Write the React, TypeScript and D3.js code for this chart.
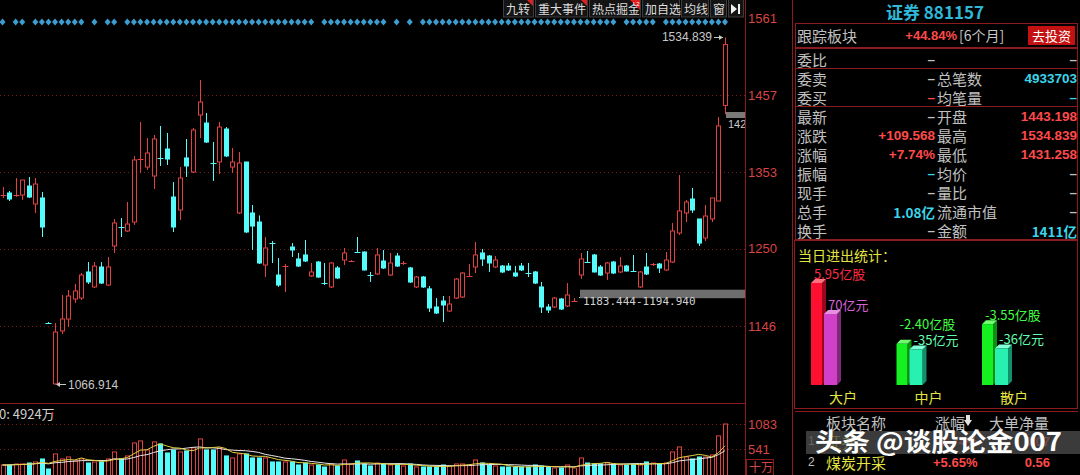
import React from "react";
import * as d3 from "d3";

// daily candles: [open, high, low, close]
const kline: [number, number, number, number][] = [
  [1322.0, 1333.3, 1318.5, 1322.5], [1325.2, 1327.9, 1314.4, 1317.1], [1322.3, 1345.4, 1319.8, 1322.5],
  [1322.5, 1342.7, 1315.8, 1342.7], [1334.6, 1346.8, 1318.5, 1319.8], [1310.4, 1345.4, 1298.3, 1337.3],
  [1318.5, 1326.6, 1265.9, 1279.4], [1150.5, 1151.4, 1148.7, 1150.0], [1068.0, 1150.0, 1066.9, 1137.9],
  [1139.3, 1187.8, 1135.2, 1155.4], [1155.4, 1194.5, 1144.7, 1186.4], [1182.4, 1202.6, 1177.0, 1193.2],
  [1183.7, 1217.4, 1181.0, 1214.7], [1218.8, 1232.2, 1202.6, 1205.3], [1198.6, 1232.2, 1197.2, 1226.8],
  [1225.5, 1232.2, 1202.6, 1203.9], [1201.2, 1239.0, 1199.9, 1225.5], [1253.8, 1290.2, 1244.4, 1284.8],
  [1279.8, 1291.5, 1265.9, 1279.4], [1274.0, 1313.1, 1272.7, 1283.4], [1286.1, 1375.1, 1282.1, 1369.7],
  [1370.6, 1420.9, 1352.2, 1371.0], [1360.2, 1399.3, 1356.2, 1379.1], [1348.1, 1403.4, 1330.6, 1398.0],
  [1372.8, 1415.5, 1361.6, 1372.4], [1384.5, 1406.1, 1362.9, 1371.0], [1319.8, 1340.0, 1272.7, 1279.4],
  [1302.3, 1360.2, 1288.8, 1345.4], [1372.4, 1398.0, 1346.8, 1361.6], [1353.5, 1412.8, 1352.2, 1410.1],
  [1430.3, 1477.5, 1399.3, 1447.8], [1419.5, 1433.0, 1392.6, 1393.9], [1366.0, 1393.9, 1341.4, 1365.6],
  [1367.0, 1420.9, 1350.8, 1414.1], [1411.4, 1414.1, 1373.7, 1375.1], [1360.2, 1385.8, 1352.2, 1367.0],
  [1298.3, 1380.4, 1296.9, 1365.6], [1367.0, 1367.0, 1271.3, 1272.7], [1298.3, 1309.0, 1248.4, 1280.7],
  [1286.1, 1295.0, 1229.5, 1230.9], [1228.2, 1265.9, 1212.0, 1251.1], [1258.2, 1260.5, 1230.9, 1257.8],
  [1214.7, 1237.6, 1198.6, 1201.2], [1226.4, 1229.5, 1191.8, 1226.8], [1252.4, 1257.8, 1239.0, 1248.4],
  [1236.3, 1244.4, 1225.5, 1226.8], [1241.7, 1261.9, 1232.2, 1233.6], [1213.4, 1230.9, 1212.0, 1218.8],
  [1232.2, 1233.6, 1210.7, 1212.0], [1204.3, 1230.9, 1201.2, 1203.9], [1198.6, 1232.2, 1197.2, 1230.9],
  [1224.2, 1226.8, 1209.3, 1210.7], [1234.9, 1251.1, 1228.2, 1244.4], [1233.3, 1234.9, 1232.2, 1233.6],
  [1246.1, 1265.9, 1244.4, 1245.7], [1245.7, 1246.5, 1220.8, 1221.5], [1215.1, 1218.8, 1205.3, 1214.7],
  [1216.1, 1251.1, 1214.7, 1241.7], [1233.6, 1248.4, 1222.8, 1224.2], [1214.7, 1244.4, 1213.4, 1230.9],
  [1240.3, 1244.4, 1225.5, 1226.8], [1230.5, 1233.6, 1228.2, 1230.9], [1224.2, 1225.5, 1204.0, 1205.3],
  [1198.6, 1213.4, 1197.2, 1212.0], [1212.0, 1213.4, 1197.2, 1198.6], [1196.0, 1199.9, 1164.9, 1170.3],
  [1171.6, 1183.7, 1162.2, 1163.5], [1179.7, 1186.4, 1151.4, 1174.3], [1166.2, 1186.4, 1164.9, 1175.6],
  [1183.7, 1210.7, 1182.4, 1209.3], [1185.1, 1218.8, 1183.7, 1217.4], [1213.0, 1229.5, 1212.0, 1213.4],
  [1225.5, 1259.2, 1217.4, 1241.7], [1244.4, 1249.8, 1226.8, 1236.3], [1240.3, 1241.7, 1218.8, 1230.9],
  [1225.5, 1240.3, 1224.2, 1234.9], [1226.8, 1228.2, 1217.4, 1218.8], [1226.8, 1230.9, 1220.1, 1221.5],
  [1217.4, 1226.8, 1212.0, 1213.4], [1226.8, 1230.9, 1220.1, 1221.5], [1217.8, 1230.9, 1212.0, 1217.4],
  [1218.8, 1220.1, 1202.6, 1203.9], [1198.6, 1205.3, 1163.5, 1171.6], [1171.6, 1175.6, 1163.5, 1167.6],
  [1171.6, 1185.1, 1170.3, 1183.7], [1182.4, 1183.7, 1167.6, 1168.9], [1173.0, 1203.9, 1171.6, 1187.8],
  [1179.5, 1183.7, 1178.3, 1179.7], [1214.7, 1244.4, 1209.3, 1236.3], [1232.5, 1247.1, 1230.9, 1232.2],
  [1241.7, 1243.0, 1218.1, 1218.8], [1225.5, 1228.2, 1213.4, 1214.7], [1217.4, 1232.2, 1208.0, 1230.9],
  [1232.2, 1233.6, 1216.1, 1217.4], [1218.8, 1239.0, 1217.4, 1226.8], [1226.8, 1228.2, 1219.4, 1220.1],
  [1220.5, 1241.7, 1218.8, 1220.1], [1198.6, 1220.1, 1197.2, 1218.8], [1225.5, 1244.4, 1214.7, 1216.1],
  [1229.2, 1230.9, 1226.8, 1229.5], [1229.5, 1230.9, 1217.4, 1224.2], [1221.5, 1245.7, 1220.1, 1234.9],
  [1232.2, 1284.8, 1230.9, 1274.0], [1271.3, 1349.5, 1268.6, 1301.0], [1298.3, 1315.8, 1286.1, 1313.1],
  [1317.1, 1331.9, 1298.3, 1302.3], [1290.2, 1290.2, 1253.8, 1257.8], [1264.6, 1309.0, 1260.5, 1294.2],
  [1290.2, 1318.5, 1286.1, 1318.5], [1314.4, 1427.6, 1314.4, 1415.6], [1443.198, 1534.839, 1431.258, 1525.2],
];

// volume, 十万
const volume = [
  204, 204, 226, 226, 247, 269, 333, 118, 441, 333, 376, 290, 333, 247, 269, 269, 333, 484, 333, 398,
  677, 720, 527, 699, 656, 462, 527, 484, 505, 570, 763, 527, 527, 570, 398, 355, 441, 441, 355, 355,
  355, 269, 269, 269, 269, 204, 247, 204, 204, 161, 226, 183, 312, 226, 290, 226, 183, 247, 226, 204,
  226, 183, 226, 161, 161, 161, 161, 204, 183, 226, 226, 204, 312, 247, 204, 183, 161, 161, 161, 161,
  161, 204, 183, 161, 140, 140, 204, 140, 355, 247, 226, 226, 247, 226, 204, 204, 226, 204, 269, 247,
  226, 247, 484, 591, 376, 333, 376, 376, 419, 828, 1083,
];

// days flagged with a marker on the top strip (inclusive index runs)
const markerRuns: [number, number][] = [
  [0, 0], [2, 3], [5, 12], [14, 14], [16, 17], [19, 47], [49, 58], [60, 60], [62, 62], [64, 93], [95, 99], [101, 110],
];

const priceTicks = [1561, 1457, 1353, 1250, 1146];
const volTicks = [1083, 541];

const toolButtons = ["九转", "重大事件", "热点掘金", "加自选", "均线", "窗"];

const quoteLeft = ["委比", "委卖", "委买", "最新", "涨跌", "涨幅", "振幅", "现手", "总手", "换手"];
const quoteMid = ["–", "–", "–", "–", "+109.568", "+7.74%", "–", "–", "1.08亿", "–"];
const quoteMidTone = ["plain", "plain", "up", "plain", "up", "up", "info", "plain", "info", "plain"];
const quoteRightLabel = ["", "总笔数", "均笔量", "开盘", "最高", "最低", "均价", "量比", "流通市值", "金额"];
const quoteRight = ["–", "4933703", "–", "1443.198", "1534.839", "1431.258", "–", "–", "–", "1411亿"];
const quoteRightTone = ["plain", "info", "info", "up", "up", "up", "plain", "plain", "plain", "info"];

const flowGroups = ["大户", "中户", "散户"];
const flowShares = [5.95, -2.4, -3.55]; // 亿股
const flowMoney = [70, -35, -36]; // 亿元

const sectorNames = ["证券", "煤炭开采"];
const sectorChange = ["+7.74%", "+5.65%"];
const sectorNet = ["0.07", "0.56"];

const RED = "#e04242";
const CYAN = "#54fcfc";
const AXIS = "#d84444";
const FRAME = "#8c1c1c";
const GRID = "#7a1c1c";
const CJK = "'Noto Sans CJK SC', sans-serif";
const NUM = "'Liberation Sans', Arial, sans-serif";
const toneColor: Record<string, string> = { plain: "#c0c0c0", up: "#ff4a4a", info: "#3cd4e8" };

const App: React.FC = () => {
  const xs = d3.scaleLinear().domain([0, kline.length - 1]).range([2.5, 725]);
  const ys = d3.scaleLinear().domain([1146, 1561]).range([326, 18]);
  const yv = d3.scaleLinear().domain([0, 1083]).range([474.5, 424]);

  const ma = (n: number) =>
    volume.map((_, i) => d3.mean(volume.slice(Math.max(0, i - n + 1), i + 1)) as number);
  const volLine = d3.line<number>().x((_, i) => xs(i)).y((d) => yv(d));

  const markers: number[] = [];
  markerRuns.forEach(([a, b]) => {
    for (let i = a; i <= b; i++) markers.push(i);
  });

  // little 3d bar chart
  const shareH = d3.scaleLinear().domain([0, 5.95]).range([0, 102]);
  const moneyH = d3.scaleLinear().domain([0, 70]).range([0, 71]);
  const groupX = d3.scalePoint<string>().domain(flowGroups).range([811, 982]);
  const base = 385;
  const d = 4;

  const bar3d = (x0: number, w: number, h: number, front: string, side: string, top: string) => {
    const t = base - h;
    return (
      <g>
        <polygon points={`${x0 + w},${t} ${x0 + w + d},${t - d} ${x0 + w + d},${base - d} ${x0 + w},${base}`} fill={side} />
        <polygon points={`${x0},${t} ${x0 + d},${t - d} ${x0 + w + d},${t - d} ${x0 + w},${t}`} fill={top} />
        <rect x={x0} y={t} width={w} height={h} fill={front} />
      </g>
    );
  };

  const btnEdges = [503, 535, 589, 642, 681, 710, 728, 745];

  return (
    <div style={{ position: "absolute", left: 0, top: 0 }}>
      <svg width={1080} height={475} style={{ display: "block", background: "#000" }}>
        <rect width={1080} height={475} fill="#000" />

        {/* price grid */}
        {priceTicks.slice(1).map((t) => (
          <line key={t} x1={0} x2={745} y1={Math.round(ys(t)) + 0.5} y2={Math.round(ys(t)) + 0.5}
            stroke={GRID} strokeDasharray="1,3" />
        ))}
        {volTicks.map((t) => (
          <line key={t} x1={0} x2={745} y1={Math.round(yv(t)) + 0.5} y2={Math.round(yv(t)) + 0.5}
            stroke={GRID} strokeDasharray="1,3" />
        ))}

        {/* marker strip */}
        {markers.map((i) => {
          const cx = xs(i);
          return <polygon key={i} points={`${cx - 3},22 ${cx},18.5 ${cx + 3},22 ${cx},25.5`} fill="#3c9ed0" />;
        })}

        {/* support band */}
        <rect x={580} y={ys(1194.94)} width={165} height={ys(1183.444) - ys(1194.94)} fill="#6e6e6e" />
        <text x={583} y={305} fill="#d0d0d0" fontSize={11} fontFamily="'DejaVu Sans Mono', monospace">1183.444-1194.940</text>
        <rect x={579} y={297} width={1} height={1} fill="#c0c0c0" />

        {/* candles */}
        {kline.map(([o, h, l, c], i) => {
          const cx = Math.round(xs(i)) + 0.5;
          const up = c >= o;
          const col = up ? RED : CYAN;
          const top = ys(Math.max(o, c));
          const bh = ys(Math.min(o, c)) - top;
          return (
            <g key={i}>
              <line x1={cx} x2={cx} y1={ys(h)} y2={ys(l)} stroke={col} />
              {bh < 1.6 ? (
                <line x1={cx - 3} x2={cx + 3} y1={Math.round(top) + 0.5} y2={Math.round(top) + 0.5} stroke={col} />
              ) : (
                <rect x={cx - 2} y={top} width={4} height={bh} fill={up ? "#000" : CYAN} stroke={col} />
              )}
            </g>
          );
        })}

        {/* high / low annotations */}
        <text x={712} y={41} textAnchor="end" fill="#c8c8c8" fontSize={12} fontFamily={NUM}>1534.839</text>
        <line x1={714} x2={723} y1={37.5} y2={37.5} stroke="#c8c8c8" />
        <polygon points="723,37.5 719,35 719,40" fill="#c8c8c8" />
        <line x1={57} x2={66} y1={384.5} y2={384.5} stroke="#c8c8c8" />
        <polygon points="56,384.5 60,382 60,387" fill="#c8c8c8" />
        <text x={68} y={389} fill="#c8c8c8" fontSize={12} fontFamily={NUM}>1066.914</text>
        <rect x={726} y={112} width={19} height={6} fill="#7a7a7a" />
        <text x={728} y={128} fill="#c8c8c8" fontSize={11} fontFamily={NUM}>142</text>

        {/* volume */}
        <line x1={0} x2={745} y1={403.5} y2={403.5} stroke={FRAME} />
        {volume.map((v, i) => {
          const cx = Math.round(xs(i)) + 0.5;
          const up = kline[i][3] >= kline[i][0];
          return (
            <rect key={i} x={cx - 2} y={yv(v)} width={4} height={474.5 - yv(v) + 2}
              fill={up ? "none" : CYAN} stroke={up ? RED : CYAN} />
          );
        })}
        <path d={volLine(ma(10)) || ""} fill="none" stroke="#e8e8e8" strokeWidth={1} />
        <path d={volLine(ma(5)) || ""} fill="none" stroke="#e0d040" strokeWidth={1} />
        <text x={-1} y={419} fill="#d0d0d0" fontSize={13} fontFamily={CJK}>0: 4924万</text>
        <text x={49} y={419} fill="#e04040" fontSize={12} fontFamily={NUM}>↑</text>

        {/* toolbar */}
        {toolButtons.map((b, k) => (
          <g key={b}>
            <rect x={btnEdges[k] + 0.5} y={-1} width={btnEdges[k + 1] - btnEdges[k] - 2} height={18}
              fill="#141414" stroke="#3c3c3c" />
            <text x={btnEdges[k] + 3} y={13.5} fill="#dcdcdc" fontSize={12} fontFamily={CJK}>{b}</text>
          </g>
        ))}
        <rect x={728.5} y={-1} width={15} height={18} fill="#141414" stroke="#3c3c3c" />
        <polygon points="527,0 533,0 533,6" fill="#e02020" />
        <polygon points="581,0 587,0 587,6" fill="#e02020" />
        <polygon points="630,0 640,0 640,10" fill="#e02020" />
        <text x={633} y={6} fill="#fff" fontSize={6} fontFamily={NUM}>L2</text>
        <polygon points="731,4 737,9 731,14" fill="#f0f0f0" />
        <rect x={738} y={4} width={2} height={10} fill="#f0f0f0" />

        {/* right axis */}
        <line x1={745.5} x2={745.5} y1={0} y2={475} stroke={FRAME} />
        {priceTicks.map((t) => (
          <text key={t} x={748} y={ys(t)} dominantBaseline="central" fill={AXIS} fontSize={13} fontFamily={NUM}>{t}</text>
        ))}
        {volTicks.map((t) => (
          <text key={t} x={748} y={yv(t)} dominantBaseline="central" fill={AXIS} fontSize={13} fontFamily={NUM}>{t}</text>
        ))}
        <rect x={746.5} y={459.5} width={27} height={16} fill="none" stroke={FRAME} />
        <text x={749} y={472} fill={AXIS} fontSize={12} fontFamily={CJK}>十万</text>

        {/* quote panel */}
        <line x1={792.5} x2={792.5} y1={0} y2={475} stroke={FRAME} />
        <text x={935} y={11} textAnchor="middle" dominantBaseline="central" fill="#2fb8d8" fontSize={17}
          fontWeight="bold" fontFamily={CJK}>证券 881157</text>
        <rect x={795.5} y={23.5} width={282} height={24} fill="none" stroke={FRAME} />
        <text x={797} y={35} dominantBaseline="central" fill="#c0c0c0" fontSize={15} fontFamily={CJK}>跟踪板块</text>
        <text x={957} y={35} textAnchor="end" dominantBaseline="central" fill="#ff4a4a" fontSize={13}
          fontWeight="bold" fontFamily={NUM}>+44.84%</text>
        <text x={959} y={35} dominantBaseline="central" fill="#c8c8c8" fontSize={14} fontFamily={CJK}>[6个月]</text>
        <rect x={1028} y={26} width={47} height={19} fill="#c41010" />
        <text x={1051.5} y={35.5} textAnchor="middle" dominantBaseline="central" fill="#fff" fontSize={13} fontFamily={CJK}>去投资</text>

        <rect x={795.5} y={48.5} width={282} height={191} fill="none" stroke={FRAME} />
        <line x1={795} x2={1078} y1={68.5} y2={68.5} stroke={FRAME} />
        <line x1={795} x2={1078} y1={106.5} y2={106.5} stroke={FRAME} />
        {quoteLeft.map((lab, k) => {
          const ry = 59.5 + k * 19;
          return (
            <g key={lab}>
              <text x={797} y={ry} dominantBaseline="central" fill="#c0c0c0" fontSize={15} fontFamily={CJK}>{lab}</text>
              <text x={935} y={ry} textAnchor="end" dominantBaseline="central" fill={toneColor[quoteMidTone[k]]}
                fontSize={13.5} fontWeight="bold" fontFamily={quoteMid[k].includes("亿") ? CJK : NUM}>{quoteMid[k]}</text>
              <text x={937} y={ry} dominantBaseline="central" fill="#c0c0c0" fontSize={15} fontFamily={CJK}>{quoteRightLabel[k]}</text>
              <text x={1077} y={ry} textAnchor="end" dominantBaseline="central" fill={toneColor[quoteRightTone[k]]}
                fontSize={13.5} fontWeight="bold" fontFamily={quoteRight[k].includes("亿") ? CJK : NUM}>{quoteRight[k]}</text>
            </g>
          );
        })}

        {/* in/out statistics */}
        <rect x={794.5} y={240.5} width={283} height={168} fill="none" stroke={FRAME} />
        <text x={798} y={255} dominantBaseline="central" fill="#e4e440" fontSize={14} fontFamily={CJK}>当日进出统计：</text>
        {flowGroups.map((g, k) => {
          const gx = groupX(g) as number;
          const h1 = shareH(Math.abs(flowShares[k]));
          const h2 = moneyH(Math.abs(flowMoney[k]));
          const pos = flowShares[k] > 0;
          const c1 = pos ? ["#ff1030", "#9a0820", "#ff7080"] : ["#14f020", "#0a9010", "#70ff70"];
          const c2 = pos ? ["#d040c8", "#802878", "#e890e0"] : ["#28f0b0", "#12906a", "#80ffd8"];
          const lc1 = pos ? "#ff2a40" : "#40ff40";
          const lc2 = pos ? "#d860d8" : "#60ffb0";
          const t1 = base - h1;
          const t2 = base - h2;
          const fmt = (v: number) => (v < 0 ? "-" : "") + Math.abs(v).toFixed(2);
          return (
            <g key={g}>
              {bar3d(gx, 11, h1, c1[0], c1[1], c1[2])}
              {bar3d(gx + 13, 13, h2, c2[0], c2[1], c2[2])}
              <text x={gx + 3} y={Math.min(t1, t2 - 16) - 10} dominantBaseline="central" fill={lc1}
                fontSize={13} fontFamily={CJK}>{fmt(flowShares[k])}亿股</text>
              <text x={gx + 17} y={t2 - 10} dominantBaseline="central" fill={lc2}
                fontSize={13} fontFamily={CJK}>{flowMoney[k]}亿元</text>
              <text x={gx + 18} y={397} dominantBaseline="central" fill="#e4e440" fontSize={14} fontFamily={CJK}>{g}</text>
            </g>
          );
        })}

        {/* sector table */}
        <line x1={795} x2={1078} y1={411.5} y2={411.5} stroke={FRAME} />
        <text x={826} y={422} dominantBaseline="central" fill="#c0c0c0" fontSize={15} fontFamily={CJK}>板块名称</text>
        <text x={935} y={422} dominantBaseline="central" fill="#c0c0c0" fontSize={15} fontFamily={CJK}>涨幅</text>
        <polygon points="964,420 972,420 968,426" fill="#e0e0e0" />
        <rect x={966} y={415} width={4} height={5} fill="#e0e0e0" />
        <text x={989} y={422} dominantBaseline="central" fill="#c0c0c0" fontSize={15} fontFamily={CJK}>大单净量</text>
        {sectorNames.map((s, k) => {
          const ry = 441 + k * 21;
          return (
            <g key={s}>
              <text x={808} y={ry} dominantBaseline="central" fill="#c0c0c0" fontSize={12} fontFamily={NUM}>{k + 1}</text>
              <text x={826} y={ry} dominantBaseline="central" fill="#e4e440" fontSize={15} fontFamily={CJK}>{s}</text>
              <text x={933} y={ry} dominantBaseline="central" fill="#ff4a4a" fontSize={13} fontWeight="bold" fontFamily={NUM}>{sectorChange[k]}</text>
              <text x={1050} y={ry} textAnchor="end" dominantBaseline="central" fill="#ff4a4a" fontSize={13} fontWeight="bold" fontFamily={NUM}>{sectorNet[k]}</text>
            </g>
          );
        })}

        {/* watermark */}
        <rect x={806} y={431} width={274} height={23} fill="#4a4a4a" fillOpacity={0.8} />
        <text x={815} y={451} fill="#ffffff" fontSize={25} fontWeight="bold" fontFamily={CJK}
          textLength={247} lengthAdjust="spacingAndGlyphs">头条 @谈股论金007</text>
      </svg>
    </div>
  );
};

export default App;
